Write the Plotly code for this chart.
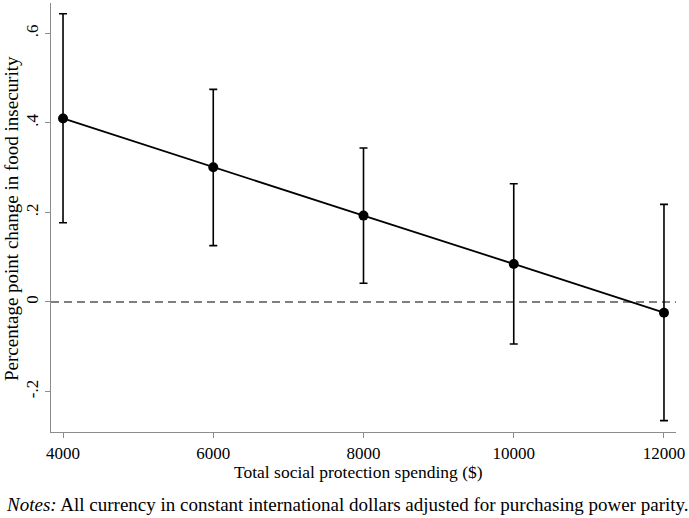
import plotly.graph_objects as go

spending = [4000, 6000, 8000, 10000, 12000]
effect = [0.410, 0.301, 0.193, 0.085, -0.024]
ci_low = [0.177, 0.126, 0.042, -0.094, -0.265]
ci_high = [0.644, 0.475, 0.344, 0.264, 0.218]

x_ticks = [4000, 6000, 8000, 10000, 12000]
y_ticks = [-0.2, 0, 0.2, 0.4, 0.6]
y_tick_labels = ["-.2", "0", ".2", ".4", ".6"]

FONT = "Liberation Serif, Times New Roman, serif"

fig = go.Figure()
fig.add_trace(go.Scatter(
    x=spending, y=effect,
    mode="lines+markers",
    line=dict(color="black", width=1.8),
    marker=dict(color="black", size=10),
    error_y=dict(
        type="data", symmetric=False,
        array=[h - e for h, e in zip(ci_high, effect)],
        arrayminus=[e - l for e, l in zip(effect, ci_low)],
        color="black", thickness=1.6, width=4,
    ),
    showlegend=False,
))

fig.add_shape(type="line", xref="paper", yref="y", x0=0, x1=1, y0=0, y1=0,
              line=dict(color="#555555", width=1.4, dash="8px,5px"), layer="below")

axis_common = dict(
    showgrid=False, zeroline=False, showline=True, automargin=False,
    linecolor="#8c8c8c", linewidth=1.2,
    ticks="outside", ticklen=5, tickcolor="#8c8c8c", tickwidth=1.2,
    tickfont=dict(family=FONT, size=17, color="black"),
)

fig.update_xaxes(range=[3840, 12160], tickvals=x_ticks,
                 ticktext=[str(v) for v in x_ticks], **axis_common)
fig.update_yaxes(range=[-0.2905, 0.668], tickvals=y_ticks, ticktext=y_tick_labels,
                 tickangle=-90, **axis_common)

fig.add_annotation(text="Total social protection spending ($)", xref="paper", yref="paper",
                   x=(358 - 51) / 625, y=(432 - 472) / 429, xanchor="center", yanchor="middle",
                   showarrow=False, font=dict(family=FONT, size=17.5, color="black"))
fig.add_annotation(text="Percentage point change in food insecurity", xref="paper", yref="paper",
                   x=(11 - 51) / 625, y=(432 - 219) / 429, xanchor="center", yanchor="middle",
                   textangle=-90, showarrow=False, font=dict(family=FONT, size=19, color="black"))
fig.add_annotation(text="<i>Notes:</i> All currency in constant international dollars adjusted for purchasing power parity.",
                   xref="paper", yref="paper",
                   x=(4 - 51) / 625, y=(432 - 504) / 429, xanchor="left", yanchor="middle",
                   showarrow=False, font=dict(family=FONT, size=19, color="black"))

fig.update_layout(
    width=689, height=518,
    margin=dict(l=51, r=13, t=3, b=86),
    paper_bgcolor="white", plot_bgcolor="white",
    font=dict(family=FONT, color="black"),
)

fig.write_html("out.html", config={"displayModeBar": False},
               post_script="document.body.style.margin='0';document.body.style.overflow='hidden';")
